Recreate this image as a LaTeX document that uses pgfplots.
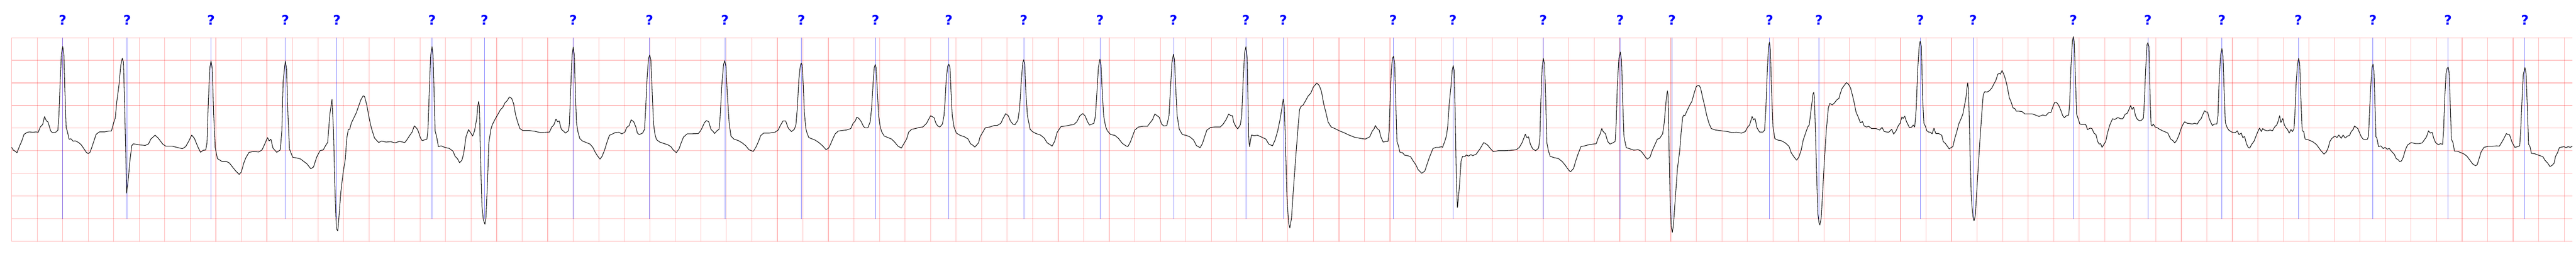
\documentclass[border=0pt]{standalone}
\usepackage{pgfplots}
\pgfplotsset{compat=1.18}
\usepackage{pgfplotstable}
\usepackage{fontspec}
\newfontfamily\qfont{DejaVu Sans}
\usetikzlibrary{plotmarks}

% beat annotations: time (s), label height (mV)
\pgfplotstableread{
t y
0.400 2.894
0.905 2.894
1.562 2.894
2.144 2.894
2.548 2.894
3.294 2.894
3.705 2.894
4.400 2.894
4.997 2.894
5.589 2.894
6.187 2.894
6.768 2.894
7.343 2.894
7.930 2.894
8.527 2.894
9.104 2.894
9.671 2.894
9.964 2.894
10.824 2.894
11.293 2.894
12.000 2.894
12.602 2.894
13.009 2.894
13.773 2.894
14.161 2.894
14.954 2.894
15.369 2.894
16.154 2.894
16.738 2.894
17.317 2.894
17.917 2.894
18.501 2.894
19.089 2.894
19.692 2.894
}\annot

\begin{document}
\begin{tikzpicture}
\useasboundingbox (-0.34cm,-0.45cm) rectangle (74.88cm,7.05cm);
\begin{axis}[
  at={(0,0)}, anchor=south west,
  scale only axis, width=74.77cm, height=5.95cm,
  xmin=0, xmax=20.063, ymin=-2, ymax=2.5,
  xtick distance=0.2, ytick distance=0.5,
  grid=major, grid style={red, opacity=0.28, line width=0.5pt},
  axis line style={draw=none},
  major tick length=0pt,
  xticklabels={}, yticklabels={},
  tick label style={opacity=0, overlay},
  clip=false,
]
% annotation lines
\addplot[blue, opacity=0.5, line width=0.3pt, unbounded coords=jump, mark=none] coordinates {
(0.400,-1.5) (0.400,2.5) (nan,nan)
(0.905,-1.5) (0.905,2.5) (nan,nan)
(1.562,-1.5) (1.562,2.5) (nan,nan)
(2.144,-1.5) (2.144,2.5) (nan,nan)
(2.548,-1.5) (2.548,2.5) (nan,nan)
(3.294,-1.5) (3.294,2.5) (nan,nan)
(3.705,-1.5) (3.705,2.5) (nan,nan)
(4.400,-1.5) (4.400,2.5) (nan,nan)
(4.997,-1.5) (4.997,2.5) (nan,nan)
(5.589,-1.5) (5.589,2.5) (nan,nan)
(6.187,-1.5) (6.187,2.5) (nan,nan)
(6.768,-1.5) (6.768,2.5) (nan,nan)
(7.343,-1.5) (7.343,2.5) (nan,nan)
(7.930,-1.5) (7.930,2.5) (nan,nan)
(8.527,-1.5) (8.527,2.5) (nan,nan)
(9.104,-1.5) (9.104,2.5) (nan,nan)
(9.671,-1.5) (9.671,2.5) (nan,nan)
(9.964,-1.5) (9.964,2.5) (nan,nan)
(10.824,-1.5) (10.824,2.5) (nan,nan)
(11.293,-1.5) (11.293,2.5) (nan,nan)
(12.000,-1.5) (12.000,2.5) (nan,nan)
(12.602,-1.5) (12.602,2.5) (nan,nan)
(13.009,-1.5) (13.009,2.5) (nan,nan)
(13.773,-1.5) (13.773,2.5) (nan,nan)
(14.161,-1.5) (14.161,2.5) (nan,nan)
(14.954,-1.5) (14.954,2.5) (nan,nan)
(15.369,-1.5) (15.369,2.5) (nan,nan)
(16.154,-1.5) (16.154,2.5) (nan,nan)
(16.738,-1.5) (16.738,2.5) (nan,nan)
(17.317,-1.5) (17.317,2.5) (nan,nan)
(17.917,-1.5) (17.917,2.5) (nan,nan)
(18.501,-1.5) (18.501,2.5) (nan,nan)
(19.089,-1.5) (19.089,2.5) (nan,nan)
(19.692,-1.5) (19.692,2.5)
};
% ECG signal (time in s, amplitude in mV)
\addplot[black, line width=0.45pt, line join=round, mark=none] table {
t mv
0.000 0.076
0.012 0.021
0.042 -0.040
0.063 0.112
0.080 0.220
0.097 0.365
0.123 0.409
0.140 0.419
0.166 0.409
0.191 0.419
0.208 0.409
0.225 0.529
0.243 0.582
0.258 0.756
0.272 0.662
0.285 0.637
0.306 0.438
0.320 0.401
0.345 0.409
0.362 0.456
0.371 0.800
0.380 1.523
0.390 2.139
0.400 2.305
0.409 2.139
0.417 1.342
0.427 0.510
0.436 0.438
0.450 0.257
0.465 0.264
0.482 0.213
0.499 0.220
0.525 0.184
0.546 0.130
0.568 0.039
0.585 -0.033
0.600 -0.062
0.614 -0.033
0.628 0.076
0.645 0.220
0.662 0.365
0.688 0.419
0.730 0.419
0.765 0.438
0.782 0.438
0.799 0.618
0.812 0.727
0.824 1.089
0.841 1.451
0.855 1.885
0.867 2.048
0.876 1.958
0.884 1.161
0.893 0.076
0.901 -0.937
0.913 -0.648
0.927 -0.214
0.941 0.112
0.953 0.155
1.004 0.130
1.047 0.119
1.073 0.155
1.090 0.257
1.124 0.347
1.150 0.275
1.184 0.148
1.209 0.101
1.261 0.101
1.295 0.076
1.338 0.047
1.364 0.094
1.389 0.220
1.411 0.347
1.432 0.275
1.458 0.094
1.480 -0.033
1.500 0.010
1.521 0.021
1.531 0.184
1.540 0.980
1.552 1.813
1.562 1.987
1.572 1.813
1.583 0.800
1.595 0.076
1.612 -0.170
1.646 -0.232
1.680 -0.232
1.706 -0.268
1.731 -0.359
1.757 -0.449
1.783 -0.521
1.800 -0.467
1.817 -0.286
1.834 -0.160
1.860 -0.033
1.894 -0.015
1.937 -0.025
1.962 0.021
1.980 0.130
2.005 0.293
2.017 0.220
2.031 0.257
2.048 0.058
2.077 -0.033
2.105 0.021
2.117 0.438
2.127 1.523
2.144 1.983
2.154 1.813
2.165 0.800
2.177 0.039
2.202 -0.141
2.237 -0.160
2.262 -0.178
2.288 -0.232
2.313 -0.286
2.344 -0.395
2.365 -0.359
2.390 -0.141
2.416 0.003
2.442 0.021
2.459 0.112
2.476 0.184
2.493 0.800
2.510 1.136
2.522 0.438
2.531 -0.648
2.544 -1.716
2.555 -1.770
2.562 -1.555
2.579 -0.922
2.597 -0.490
2.614 -0.190
2.626 0.276
2.638 0.476
2.649 0.476
2.661 0.609
2.678 0.709
2.701 0.842
2.719 0.991
2.736 1.125
2.754 1.215
2.765 1.201
2.783 1.008
2.800 0.742
2.818 0.509
2.843 0.283
2.876 0.183
2.899 0.216
2.934 0.193
2.969 0.203
3.004 0.176
3.039 0.209
3.080 0.183
3.097 0.243
3.120 0.343
3.138 0.416
3.155 0.552
3.173 0.502
3.185 0.442
3.202 0.293
3.216 0.226
3.237 0.243
3.254 0.259
3.262 0.476
3.272 1.274
3.283 2.107
3.294 2.300
3.302 2.107
3.310 1.274
3.318 0.442
3.330 0.309
3.344 0.093
3.365 0.110
3.394 0.076
3.429 0.053
3.458 -0.007
3.475 -0.123
3.493 -0.173
3.510 -0.263
3.528 -0.207
3.542 -0.057
3.560 0.309
3.580 0.469
3.598 0.392
3.612 0.326
3.627 0.442
3.644 0.709
3.652 0.975
3.659 1.091
3.665 0.975
3.673 -0.057
3.685 -1.222
3.696 -1.522
3.708 -1.621
3.716 -1.488
3.728 -0.722
3.739 0.176
3.755 0.476
3.766 0.576
3.790 0.709
3.807 0.792
3.830 0.908
3.848 0.958
3.865 1.058
3.883 1.108
3.900 1.191
3.918 1.158
3.933 1.041
3.949 0.792
3.964 0.642
3.982 0.492
4.005 0.449
4.052 0.449
4.098 0.432
4.145 0.402
4.191 0.409
4.214 0.416
4.232 0.526
4.249 0.576
4.265 0.702
4.278 0.642
4.290 0.659
4.307 0.476
4.321 0.442
4.339 0.392
4.362 0.442
4.370 0.576
4.379 1.274
4.391 2.107
4.400 2.293
4.409 2.107
4.417 1.274
4.426 0.609
4.438 0.409
4.452 0.269
4.473 0.216
4.502 0.183
4.531 0.150
4.554 0.076
4.571 -0.024
4.589 -0.107
4.610 -0.183
4.626 -0.123
4.645 0.010
4.665 0.193
4.684 0.343
4.705 0.369
4.729 0.402
4.758 0.409
4.781 0.376
4.804 0.409
4.819 0.516
4.839 0.559
4.854 0.685
4.874 0.642
4.891 0.526
4.903 0.392
4.917 0.359
4.944 0.392
4.959 0.476
4.968 0.942
4.979 1.607
4.990 2.040
5.000 2.117
5.008 2.007
5.017 1.441
5.029 0.609
5.040 0.376
5.052 0.249
5.078 0.193
5.113 0.160
5.142 0.133
5.165 0.093
5.182 0.026
5.208 -0.040
5.229 0.043
5.246 0.176
5.264 0.303
5.293 0.376
5.334 0.376
5.380 0.382
5.398 0.442
5.413 0.526
5.429 0.626
5.444 0.669
5.462 0.642
5.479 0.476
5.497 0.426
5.508 0.382
5.526 0.442
5.543 0.476
5.552 0.775
5.564 1.441
5.578 1.907
5.587 1.990
5.597 1.874
5.607 1.274
5.622 0.609
5.636 0.326
5.659 0.259
5.694 0.226
5.724 0.176
5.753 0.110
5.776 0.026
5.811 -0.014
5.834 0.093
5.852 0.209
5.869 0.336
5.892 0.392
5.933 0.392
5.980 0.409
6.006 0.459
6.023 0.559
6.044 0.659
6.065 0.659
6.081 0.526
6.092 0.476
6.110 0.426
6.133 0.476
6.145 0.576
6.156 0.942
6.168 1.574
6.180 1.890
6.187 1.940
6.194 1.890
6.203 1.441
6.211 0.842
6.223 0.492
6.232 0.392
6.246 0.293
6.267 0.269
6.296 0.236
6.325 0.183
6.354 0.110
6.381 0.026
6.401 0.060
6.416 0.143
6.433 0.259
6.453 0.376
6.476 0.436
6.505 0.449
6.540 0.459
6.575 0.492
6.593 0.609
6.610 0.659
6.622 0.742
6.639 0.715
6.657 0.642
6.674 0.542
6.686 0.509
6.709 0.509
6.727 0.642
6.738 0.942
6.750 1.507
6.759 1.840
6.766 1.907
6.773 1.840
6.782 1.374
6.793 0.775
6.805 0.542
6.816 0.426
6.837 0.326
6.866 0.293
6.895 0.259
6.919 0.193
6.942 0.110
6.971 0.060
6.988 0.143
7.012 0.259
7.029 0.416
7.052 0.476
7.081 0.492
7.111 0.516
7.140 0.526
7.169 0.609
7.186 0.702
7.200 0.775
7.227 0.735
7.242 0.609
7.256 0.549
7.273 0.526
7.293 0.592
7.305 0.775
7.314 1.108
7.323 1.607
7.335 1.874
7.343 1.914
7.352 1.840
7.361 1.274
7.370 0.775
7.384 0.526
7.402 0.392
7.431 0.343
7.466 0.309
7.495 0.259
7.512 0.159
7.530 0.126
7.547 0.083
7.576 0.176
7.588 0.309
7.605 0.392
7.629 0.509
7.664 0.526
7.698 0.559
7.722 0.559
7.751 0.609
7.768 0.715
7.789 0.822
7.809 0.775
7.826 0.659
7.844 0.592
7.861 0.576
7.884 0.675
7.898 0.942
7.910 1.507
7.922 1.940
7.930 2.014
7.938 1.907
7.947 1.274
7.959 0.775
7.980 0.476
7.997 0.426
8.026 0.382
8.061 0.349
8.090 0.283
8.114 0.176
8.137 0.136
8.152 0.103
8.172 0.209
8.192 0.409
8.222 0.536
8.259 0.549
8.294 0.569
8.323 0.582
8.346 0.642
8.370 0.775
8.393 0.822
8.410 0.775
8.430 0.642
8.445 0.569
8.480 0.609
8.492 0.775
8.503 1.274
8.515 1.840
8.527 2.024
8.535 1.907
8.544 1.374
8.556 0.775
8.571 0.542
8.585 0.442
8.611 0.359
8.643 0.343
8.672 0.276
8.701 0.169
8.730 0.110
8.746 0.093
8.765 0.193
8.783 0.326
8.800 0.459
8.829 0.526
8.864 0.542
8.899 0.542
8.922 0.626
8.940 0.692
8.957 0.815
8.975 0.775
8.992 0.742
9.010 0.592
9.027 0.549
9.051 0.559
9.068 0.775
9.080 1.374
9.091 1.940
9.103 2.134
9.111 2.007
9.120 1.441
9.132 0.775
9.149 0.476
9.173 0.359
9.202 0.343
9.231 0.309
9.260 0.243
9.283 0.116
9.312 0.070
9.330 0.159
9.347 0.309
9.365 0.459
9.394 0.516
9.429 0.526
9.470 0.526
9.493 0.592
9.516 0.692
9.536 0.815
9.553 0.775
9.565 0.775
9.576 0.626
9.592 0.536
9.607 0.486
9.627 0.576
9.638 0.775
9.650 1.607
9.661 2.174
9.671 2.300
9.681 2.040
9.687 1.108
9.693 0.276
9.699 0.093
9.704 0.176
9.714 0.349
9.733 0.336
9.763 0.343
9.797 0.299
9.827 0.259
9.850 0.149
9.879 0.110
9.900 0.243
9.920 0.442
9.937 0.675
9.951 0.908
9.963 1.141
9.972 0.975
9.981 0.110
9.993 -1.055
10.005 -1.588
10.015 -1.704
10.028 -1.488
10.042 -0.889
10.059 -0.223
10.077 0.442
10.091 0.908
10.102 0.981
10.118 1.008
10.135 1.091
10.158 1.208
10.179 1.274
10.199 1.408
10.226 1.498
10.246 1.441
10.263 1.308
10.280 1.041
10.298 0.842
10.315 0.635
10.339 0.526
10.368 0.492
10.403 0.442
10.438 0.402
10.478 0.349
10.519 0.303
10.566 0.276
10.606 0.259
10.641 0.309
10.659 0.426
10.676 0.492
10.685 0.559
10.699 0.492
10.715 0.459
10.728 0.309
10.746 0.193
10.769 0.209
10.784 0.209
10.793 0.442
10.801 1.108
10.810 1.774
10.819 2.040
10.827 2.090
10.836 1.940
10.845 1.108
10.854 0.209
10.866 0.110
10.877 -0.030
10.897 -0.040
10.915 -0.097
10.938 -0.107
10.961 -0.130
10.985 -0.240
11.002 -0.307
11.020 -0.416
11.048 -0.496
11.072 -0.450
11.087 -0.323
11.107 -0.157
11.136 0.050
11.159 0.076
11.182 0.076
11.203 0.093
11.211 0.076
11.229 0.209
11.243 0.343
11.252 0.542
11.264 1.041
11.278 1.441
11.287 1.774
11.295 1.884
11.302 1.774
11.311 0.775
11.319 -0.556
11.328 -1.255
11.336 -1.055
11.345 -0.722
11.357 -0.223
11.368 -0.123
11.386 -0.130
11.398 -0.090
11.415 -0.117
11.433 -0.083
11.448 -0.107
11.475 -0.073
11.505 0.043
11.534 0.183
11.563 0.133
11.586 0.050
11.609 -0.017
11.650 0.003
11.697 0.003
11.743 0.010
11.790 0.026
11.813 0.076
11.834 0.176
11.848 0.276
11.860 0.369
11.871 0.293
11.885 0.309
11.900 0.143
11.918 0.043
11.941 0.003
11.964 0.060
11.974 0.276
11.982 1.108
11.992 1.840
12.001 2.047
12.011 1.907
12.020 1.108
12.029 0.176
12.040 0.010
12.055 -0.123
12.086 -0.150
12.121 -0.173
12.150 -0.240
12.174 -0.323
12.199 -0.423
12.214 -0.463
12.238 -0.390
12.255 -0.223
12.273 -0.073
12.296 0.093
12.325 0.110
12.360 0.136
12.395 0.150
12.416 0.159
12.430 0.276
12.447 0.376
12.459 0.492
12.470 0.426
12.488 0.376
12.505 0.209
12.523 0.150
12.546 0.176
12.564 0.209
12.572 0.609
12.581 1.441
12.593 2.040
12.604 2.184
12.614 2.007
12.623 1.108
12.633 0.309
12.651 0.070
12.674 0.050
12.709 0.016
12.744 0.026
12.767 -0.007
12.785 -0.073
12.802 -0.140
12.816 -0.183
12.837 -0.140
12.855 0.010
12.872 0.116
12.895 0.259
12.913 0.276
12.936 0.376
12.948 0.609
12.960 1.008
12.968 1.241
12.974 1.324
12.979 1.174
12.986 0.110
12.994 -1.055
13.004 -1.688
13.012 -1.804
13.021 -1.621
13.035 -1.055
13.052 -0.390
13.070 0.010
13.082 0.442
13.093 0.742
13.102 0.792
13.110 0.775
13.128 0.892
13.151 1.025
13.165 1.091
13.183 1.274
13.200 1.424
13.220 1.451
13.233 1.391
13.247 1.208
13.264 1.008
13.282 0.775
13.299 0.609
13.317 0.492
13.351 0.459
13.398 0.442
13.444 0.426
13.479 0.402
13.514 0.409
13.555 0.392
13.584 0.426
13.602 0.526
13.617 0.569
13.637 0.758
13.648 0.682
13.660 0.715
13.675 0.509
13.695 0.416
13.722 0.416
13.735 0.459
13.745 0.942
13.756 1.774
13.766 2.306
13.773 2.400
13.780 2.240
13.788 1.441
13.800 0.542
13.815 0.269
13.840 0.236
13.863 0.226
13.893 0.183
13.910 0.143
13.927 0.093
13.943 -0.040
13.962 -0.123
13.986 -0.207
14.003 -0.140
14.021 0.010
14.038 0.243
14.056 0.392
14.073 0.526
14.085 0.576
14.096 0.842
14.108 1.108
14.114 1.258
14.120 1.291
14.125 1.174
14.133 0.442
14.143 -0.556
14.152 -1.388
14.161 -1.588
14.168 -1.638
14.178 -1.488
14.189 -0.955
14.203 -0.223
14.218 0.442
14.234 0.942
14.245 1.048
14.265 1.015
14.282 1.058
14.300 1.124
14.317 1.158
14.327 1.258
14.341 1.374
14.358 1.441
14.376 1.508
14.393 1.468
14.408 1.391
14.422 1.241
14.436 1.075
14.451 0.858
14.469 0.742
14.486 0.616
14.501 0.649
14.515 0.549
14.533 0.526
14.550 0.542
14.573 0.492
14.608 0.492
14.637 0.459
14.655 0.519
14.672 0.426
14.707 0.409
14.731 0.476
14.746 0.369
14.765 0.442
14.783 0.559
14.797 0.609
14.810 0.748
14.820 0.715
14.833 0.765
14.847 0.642
14.858 0.582
14.870 0.509
14.888 0.526
14.899 0.569
14.911 0.526
14.923 0.942
14.934 1.774
14.946 2.306
14.954 2.423
14.963 2.306
14.974 1.100
14.983 0.609
14.995 0.542
15.006 0.442
15.020 0.416
15.035 0.409
15.047 0.376
15.062 0.499
15.076 0.382
15.099 0.382
15.123 0.343
15.134 0.209
15.152 0.159
15.169 0.093
15.181 0.043
15.198 0.076
15.210 0.093
15.225 0.276
15.241 0.426
15.256 0.592
15.274 0.709
15.288 0.808
15.300 0.991
15.311 1.141
15.320 1.374
15.326 1.501
15.332 1.374
15.338 0.775
15.346 -0.223
15.355 -1.055
15.367 -1.455
15.376 -1.548
15.386 -1.421
15.396 -0.955
15.408 -0.390
15.423 0.276
15.437 0.842
15.448 1.241
15.460 1.308
15.477 1.298
15.495 1.324
15.516 1.391
15.532 1.481
15.547 1.558
15.562 1.691
15.574 1.714
15.582 1.691
15.595 1.774
15.609 1.691
15.623 1.574
15.637 1.408
15.652 1.174
15.667 1.075
15.681 0.948
15.695 0.935
15.707 0.875
15.728 0.875
15.751 0.868
15.774 0.815
15.803 0.815
15.832 0.815
15.856 0.792
15.885 0.759
15.914 0.792
15.937 0.775
15.960 0.842
15.978 0.848
15.993 0.968
16.007 1.068
16.021 1.075
16.040 1.001
16.056 0.892
16.071 0.775
16.083 0.732
16.100 0.775
16.118 0.792
16.126 1.108
16.135 1.840
16.147 2.440
16.154 2.523
16.161 2.407
16.170 1.607
16.180 0.808
16.191 0.715
16.205 0.592
16.222 0.582
16.251 0.582
16.265 0.469
16.286 0.502
16.300 0.492
16.315 0.392
16.331 0.359
16.344 0.209
16.356 0.149
16.368 0.159
16.379 0.076
16.397 0.159
16.408 0.209
16.420 0.376
16.438 0.559
16.461 0.709
16.478 0.692
16.502 0.735
16.525 0.709
16.542 0.709
16.560 0.808
16.577 0.832
16.589 0.908
16.603 1.001
16.614 0.915
16.626 0.965
16.641 0.775
16.656 0.692
16.673 0.665
16.688 0.675
16.703 0.725
16.711 1.108
16.720 1.774
16.731 2.340
16.738 2.390
16.746 2.306
16.756 1.108
16.763 0.576
16.771 0.549
16.780 0.592
16.795 0.526
16.812 0.509
16.830 0.476
16.853 0.442
16.876 0.416
16.894 0.392
16.905 0.326
16.917 0.259
16.934 0.226
16.948 0.176
16.963 0.226
16.981 0.343
16.998 0.492
17.016 0.602
17.027 0.642
17.045 0.609
17.068 0.602
17.086 0.592
17.103 0.609
17.126 0.592
17.138 0.659
17.155 0.709
17.167 0.792
17.182 0.885
17.194 0.858
17.206 0.858
17.217 0.725
17.229 0.642
17.243 0.559
17.260 0.592
17.278 0.592
17.287 0.775
17.295 1.441
17.307 2.107
17.318 2.257
17.326 2.107
17.336 1.274
17.345 0.625
17.357 0.526
17.371 0.459
17.388 0.426
17.406 0.402
17.423 0.402
17.438 0.442
17.452 0.359
17.470 0.392
17.481 0.293
17.496 0.316
17.510 0.159
17.524 0.076
17.536 0.060
17.551 0.143
17.569 0.209
17.583 0.309
17.598 0.416
17.613 0.502
17.627 0.426
17.638 0.492
17.652 0.459
17.673 0.442
17.697 0.459
17.714 0.442
17.731 0.526
17.749 0.576
17.761 0.675
17.770 0.775
17.780 0.626
17.795 0.715
17.807 0.576
17.819 0.509
17.830 0.482
17.845 0.392
17.859 0.469
17.871 0.426
17.883 0.492
17.892 0.942
17.900 1.507
17.910 1.907
17.919 2.047
17.927 1.940
17.935 1.274
17.947 0.442
17.959 0.426
17.970 0.259
17.988 0.249
18.011 0.226
18.034 0.193
18.057 0.143
18.075 0.076
18.092 0.010
18.118 -0.073
18.136 -0.024
18.150 0.060
18.164 0.209
18.180 0.276
18.203 0.326
18.220 0.293
18.234 0.349
18.253 0.276
18.267 0.349
18.284 0.283
18.302 0.326
18.319 0.343
18.331 0.426
18.348 0.476
18.356 0.549
18.372 0.516
18.383 0.492
18.395 0.409
18.409 0.316
18.424 0.259
18.441 0.243
18.459 0.259
18.467 0.343
18.476 0.942
18.486 1.507
18.494 1.840
18.502 1.914
18.509 1.774
18.517 1.041
18.525 0.309
18.532 0.283
18.545 0.093
18.563 0.110
18.582 0.050
18.596 0.076
18.613 0.036
18.629 0.053
18.651 -0.024
18.668 -0.073
18.684 -0.173
18.699 -0.197
18.712 -0.240
18.725 -0.223
18.739 -0.140
18.756 0.026
18.772 0.126
18.800 0.183
18.833 0.160
18.866 0.160
18.888 0.176
18.904 0.243
18.921 0.309
18.937 0.442
18.951 0.392
18.965 0.409
18.978 0.276
18.992 0.183
19.014 0.133
19.030 0.160
19.047 0.143
19.055 0.442
19.063 1.108
19.074 1.707
19.083 1.824
19.091 1.847
19.099 1.707
19.107 1.041
19.116 0.259
19.129 0.176
19.140 -0.007
19.162 -0.007
19.190 -0.040
19.217 -0.073
19.239 -0.123
19.261 -0.207
19.283 -0.290
19.305 -0.330
19.318 -0.307
19.333 -0.173
19.349 -0.024
19.371 0.076
19.404 0.100
19.437 0.100
19.470 0.110
19.492 0.103
19.508 0.176
19.525 0.259
19.547 0.382
19.558 0.359
19.571 0.359
19.591 0.193
19.613 0.076
19.635 0.093
19.651 0.110
19.659 0.442
19.668 1.041
19.679 1.674
19.692 1.840
19.701 1.707
19.710 1.041
19.721 0.143
19.732 0.093
19.743 -0.057
19.767 -0.063
19.800 -0.097
19.833 -0.130
19.849 -0.207
19.871 -0.273
19.888 -0.347
19.904 -0.323
19.921 -0.273
19.932 -0.123
19.948 -0.040
19.962 0.070
19.981 0.083
19.998 0.093
20.014 0.070
20.031 0.093
20.047 0.076
20.063 0.103
};
% annotation symbols
\addplot[only marks, mark=text, text mark={?}, text mark as node=true,
  text mark style={font=\qfont\bfseries\fontsize{11}{13}\selectfont, text=blue, inner sep=0pt}]
  table[x=t, y=y] {\annot};
\end{axis}
\end{tikzpicture}
\end{document}
